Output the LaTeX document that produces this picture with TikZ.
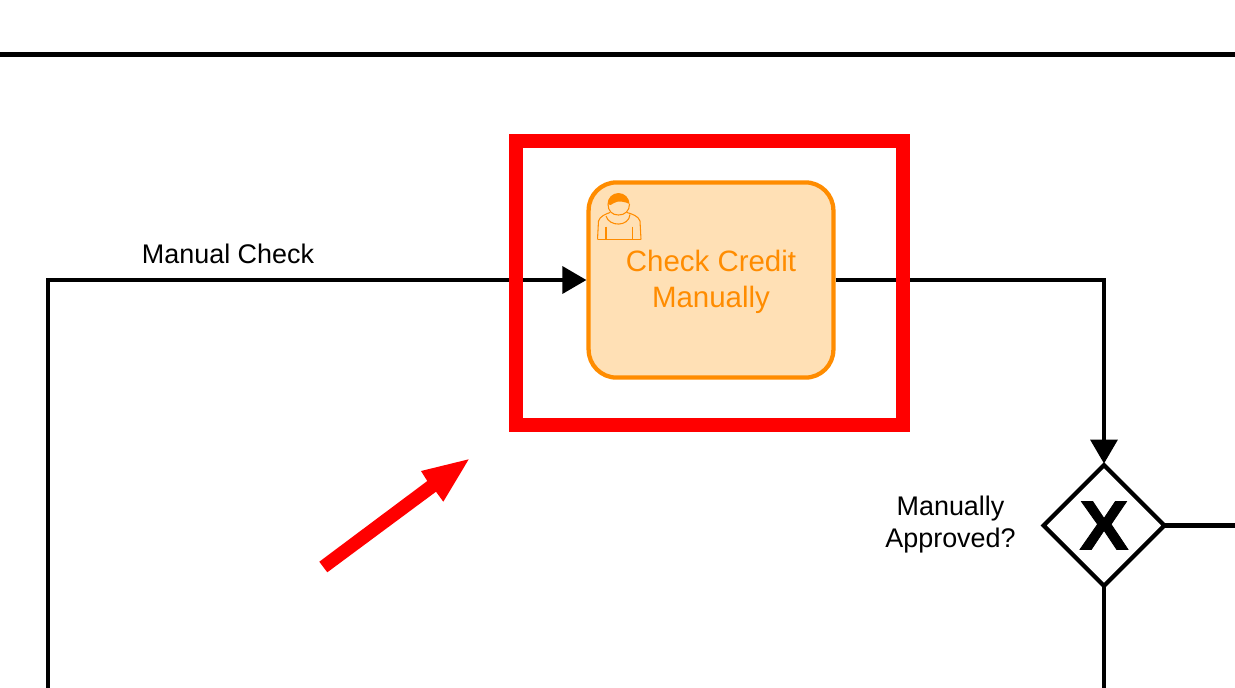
\documentclass[tikz,border=0pt]{standalone}
\usepackage{fontspec}
\setmainfont{Liberation Sans}
\newfontfamily\gwfont[FakeBold=1.2]{Liberation Sans Bold}
\usetikzlibrary{arrows.meta,shapes.geometric}
\definecolor{taskorange}{HTML}{FF8C00}
\definecolor{taskfill}{HTML}{FFE0B5}
\tikzset{
  flow/.style={line width=3.2pt,draw=black,line join=miter},
  flowtip/.style={flow,-{Triangle[length=18pt,width=20pt]}},
  usertask/.style={rectangle,rounded corners=21pt,draw=taskorange,fill=taskfill,line width=3.2pt,
    minimum width=183.6pt,minimum height=146.4pt,inner sep=0pt,text=taskorange,align=center,
    font=\fontsize{22.1}{27}\selectfont},
  gateway/.style={diamond,aspect=1,draw=black,line width=3.2pt,fill=white,minimum width=92pt,minimum height=92pt,inner sep=0pt,
    font=\fontsize{52}{52}\gwfont},
  label/.style={inner sep=0pt,text=black,align=center,font=\fontsize{20.2}{23.5}\selectfont},
  iconline/.style={draw=taskorange,line width=0.8pt,line join=round},
}
\begin{document}
\begin{tikzpicture}[x=0.75pt,y=-0.75pt]
\useasboundingbox (0,0) rectangle (1235,687);
% coordinates
\coordinate (topL) at (0,54);
\coordinate (topR) at (1235,54);
\coordinate (leftEnd) at (48,690);
\coordinate (leftCorner) at (48,280);
\coordinate (rightCorner) at (1104,280);
\coordinate (gwRight) at (1238,525);
\coordinate (gwBottom) at (1104,690);
% nodes
\node[usertask] (task) at (711,280) {\rule{0pt}{18.5pt}Check Credit\\Manually};
\node[gateway] (gw) at (1104,525.5) {\scalebox{1.06}[1]{X}};
\node[label] (lblCheck) at (228,254) {Manual Check};
\node[label] (lblApproved) at (950.5,524.5) {Manually\\Approved?};
% connectors
\draw[line width=3.75pt] (topL) -- (topR);
\draw[flowtip] (leftEnd) -- (leftCorner) -- (task.west |- leftCorner);
\draw[flowtip,shorten >=-1.2pt] (task.east |- rightCorner) -- (rightCorner) -- (gw.north);
\draw[flow,shorten <=-1.5pt] (gw.east) -- (gw.east -| gwRight);
\draw[flow,shorten <=-1.5pt] (gw.south) -- (gwBottom);
% user icon
\draw[iconline] (597.5,239.5) -- (598.5,221) .. controls (600,216) and (606,214) .. (610,212.5);
\draw[iconline] (641,239.5) -- (640,221) .. controls (638.5,216) and (632,214) .. (627,212.5);
\draw[iconline] (606,216) .. controls (609,227) and (629,227) .. (630,214.5);
\draw[iconline] (597.5,239.5) -- (641,239.5);
\draw[iconline] (606,226.5) -- (606,239.5);
\draw[iconline] (632.7,226.5) -- (632.7,239.5);
\draw[iconline] (608,204) .. controls (608,211) and (612,215) .. (618.5,215) .. controls (625,215) and (629.5,211) .. (629.5,204);
\fill[taskorange] (607.5,204) arc[start angle=180,end angle=360,radius=11] .. controls (626,202) and (618,200) .. (614,203) .. controls (612,205) and (609,206) .. (607.5,204) -- cycle;
% red highlight
\draw[red,line width=10.5pt] (516,141) rectangle (903,425);
\fill[red] (319.3,561.7) -- (427.3,481) -- (421,471) -- (468.7,459.3) -- (443.3,501.7) -- (436,491.7) -- (327.3,572.3) -- cycle;
\end{tikzpicture}
\end{document}
